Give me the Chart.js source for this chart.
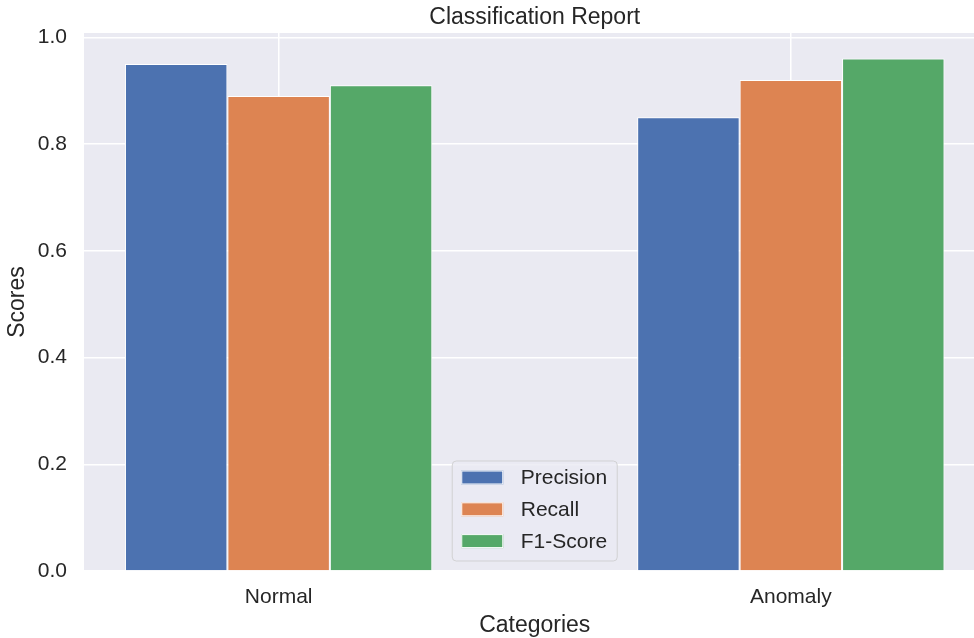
<!DOCTYPE html>
<html>
<head>
<meta charset="utf-8">
<title>Classification Report</title>
<script src="https://cdn.jsdelivr.net/npm/chart.js@4.4.1/dist/chart.umd.min.js"></script>
<style>
    html, body { margin: 0; padding: 0; background: #ffffff; overflow: hidden; }
    canvas { display: block; }
</style>
</head>
<body>
<canvas id="report-chart" width="1000" height="638"></canvas>
<script>
// Data
const categories = ['Normal', 'Anomaly'];
const seriesNames = ['Precision', 'Recall', 'F1-Score'];
const precision = [0.95, 0.85];
const recall = [0.89, 0.92];
const f1Score = [0.91, 0.96];
const yTicks = [0.0, 0.2, 0.4, 0.6, 0.8, 1.0];
const yTickLabels = ['0.0', '0.2', '0.4', '0.6', '0.8', '1.0'];

const colors = ['#4C72B0', '#DD8452', '#55A868'];
const textColor = '#262626';
const FONT = "'Liberation Sans', Arial, Helvetica, sans-serif";

// bars sit on a linear x axis, one group per category index
const toPoints = values => values.map((v, i) => ({ x: i, y: v }));

// Plot background (seaborn darkgrid)
const plotBackground = {
    id: 'plotBackground',
    beforeDraw(chart) {
        const { ctx, chartArea: a } = chart;
        ctx.save();
        ctx.fillStyle = '#EAEAF2';
        ctx.fillRect(a.left, a.top, a.right - a.left, a.bottom - a.top);
        ctx.restore();
    }
};

// Legend box drawn inside the plot, lower center (like matplotlib loc="best")
const insideLegend = {
    id: 'insideLegend',
    afterDatasetsDraw(chart) {
        const { ctx, chartArea: a } = chart;
        const boxW = 165, boxH = 100;
        const left = (a.left + a.right) / 2 - boxW / 2;
        const top = a.bottom - 10 - boxH;

        ctx.save();
        ctx.beginPath();
        ctx.roundRect(left, top, boxW, boxH, 4);
        ctx.fillStyle = 'rgba(234, 234, 242, 0.8)';
        ctx.fill();
        ctx.lineWidth = 1;
        ctx.strokeStyle = 'rgba(204, 204, 204, 0.8)';
        ctx.stroke();

        ctx.font = '21px ' + FONT;
        ctx.textBaseline = 'middle';
        ctx.textAlign = 'left';
        chart.data.datasets.forEach((ds, i) => {
            const cy = top + 16.5 + i * 31.8;
            ctx.fillStyle = ds.backgroundColor;
            ctx.fillRect(left + 9, cy - 7, 42, 14);
            ctx.strokeStyle = '#ffffff';
            ctx.lineWidth = 1;
            ctx.strokeRect(left + 9.5, cy - 6.5, 41, 13);
            ctx.fillStyle = textColor;
            ctx.fillText(ds.label, left + 68.5, cy + 1);
        });
        ctx.restore();
    }
};

const ctx = document.getElementById('report-chart').getContext('2d');
const chart = new Chart(ctx, {
    type: 'bar',
    data: {
        datasets: [
            { label: seriesNames[0], data: toPoints(precision), backgroundColor: colors[0] },
            { label: seriesNames[1], data: toPoints(recall), backgroundColor: colors[1] },
            { label: seriesNames[2], data: toPoints(f1Score), backgroundColor: colors[2] }
        ]
    },
    options: {
        responsive: false,
        animation: false,
        devicePixelRatio: 1,
        layout: { padding: { left: 0, right: 14.5, top: 0, bottom: 0 } },
        datasets: {
            bar: {
                categoryPercentage: 0.6,
                barPercentage: 1.0,
                borderColor: '#ffffff',
                borderWidth: 1
            }
        },
        scales: {
            x: {
                type: 'linear',
                min: -0.38,
                max: 1.38,
                offset: false,
                afterBuildTicks: scale => { scale.ticks = categories.map((c, i) => ({ value: i })); },
                afterFit: scale => { scale.height = 67; },
                border: { display: false },
                grid: { color: '#ffffff', lineWidth: 1.5, drawTicks: false, offset: false },
                ticks: {
                    padding: 14,
                    color: textColor,
                    font: { family: FONT, size: 21 },
                    maxRotation: 0,
                    callback: value => categories[value]
                },
                title: {
                    display: true,
                    text: 'Categories',
                    color: textColor,
                    font: { family: FONT, size: 23 },
                    padding: { top: 0, bottom: -1 }
                }
            },
            y: {
                min: 0,
                max: 1.008,
                afterBuildTicks: scale => { scale.ticks = yTicks.map(v => ({ value: v })); },
                afterFit: scale => { scale.width = 84; },
                border: { display: false },
                grid: { color: '#ffffff', lineWidth: 1.5, drawTicks: false },
                ticks: {
                    padding: 17,
                    color: textColor,
                    font: { family: FONT, size: 21 },
                    callback: value => yTickLabels[yTicks.indexOf(value)]
                },
                title: {
                    display: true,
                    text: 'Scores',
                    color: textColor,
                    font: { family: FONT, size: 23 },
                    padding: { top: 4, bottom: 0 }
                }
            }
        },
        plugins: {
            legend: { display: false },
            tooltip: { enabled: false },
            title: {
                display: true,
                text: 'Classification Report',
                color: textColor,
                fullSize: false,
                font: { family: FONT, size: 23, weight: 'normal' },
                padding: { top: 4, bottom: 1.4 }
            }
        }
    },
    plugins: [plotBackground, insideLegend]
});
</script>
</body>
</html>
